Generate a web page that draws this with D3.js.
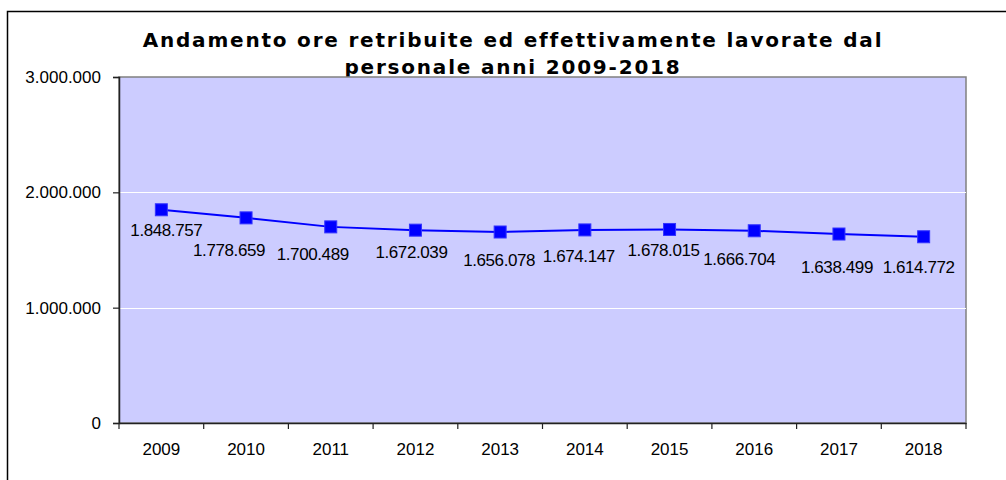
<!DOCTYPE html>
<html>
<head>
<meta charset="utf-8">
<script src="https://cdn.jsdelivr.net/npm/d3@7"></script>
<style>
  body { margin: 0; background: #fff; }
  svg { display: block; }
  .tick text { font-family: "Liberation Sans", Arial, sans-serif; font-size: 17px; fill: #000; }
</style>
</head>
<body>
<figure id="chart" style="margin:0"></figure>
<script>
// data
const years = ["2009", "2010", "2011", "2012", "2013", "2014", "2015", "2016", "2017", "2018"];
const hours = [1848757, 1778659, 1700489, 1672039, 1656078, 1674147, 1678015, 1666704, 1638499, 1614772];
const yTicks = [0, 1000000, 2000000, 3000000];
const titleLines = ["Andamento ore retribuite ed effettivamente lavorate dal", "personale anni 2009-2018"];

// label nudges (px) relative to each point, as placed in the original
const labelDx = [5, -17, -18, -4, -1, -6, -6, -15, -2, -5];
const labelDy = [26, 38, 33, 28, 34, 32, 27, 34, 39, 36];

const width = 1006, height = 480;
const plot = { left: 119, top: 77, right: 966, bottom: 423 };

const fmt = d3.formatLocale({ decimal: ",", thousands: ".", grouping: [3], currency: ["€", ""] }).format(",d");

const svg = d3.select("#chart").append("svg")
  .attr("width", width)
  .attr("height", height);

// outer frame
svg.append("rect")
  .attr("x", 7.5).attr("y", 11.5)
  .attr("width", 1010).attr("height", 480)
  .attr("fill", "#fff").attr("stroke", "#000").attr("stroke-width", 1.5);

// title (plot area is drawn over it afterwards, as in the original)
svg.append("g").selectAll("text")
  .data(titleLines)
  .enter().append("text")
  .attr("x", 513)
  .attr("y", (d, i) => 47 + i * 27)
  .attr("text-anchor", "middle")
  .style("font-family", "'DejaVu Sans', Verdana, sans-serif")
  .style("font-weight", "bold")
  .style("font-size", "20px")
  .style("letter-spacing", "1.8px")
  .text(d => d);

const x = d3.scaleBand().domain(years).range([plot.left, plot.right]).padding(0);
const y = d3.scaleLinear().domain([0, 3000000]).range([plot.bottom, plot.top]);

// plot background
svg.append("rect")
  .attr("x", plot.left).attr("y", plot.top)
  .attr("width", plot.right - plot.left).attr("height", plot.bottom - plot.top)
  .attr("fill", "#ccccff")
  .attr("stroke", "#808080").attr("stroke-width", 1.5);

// gridlines
svg.append("g").selectAll("line")
  .data(yTicks.filter(d => d > 0 && d < 3000000))
  .enter().append("line")
  .attr("x1", plot.left).attr("x2", plot.right)
  .attr("y1", d => Math.round(y(d)) + 0.5).attr("y2", d => Math.round(y(d)) + 0.5)
  .attr("stroke", "#fff").attr("stroke-width", 1);

// y axis
const yAxis = svg.append("g")
  .attr("transform", "translate(" + plot.left + ",0)")
  .call(d3.axisLeft(y).tickValues(yTicks).tickFormat(fmt).tickSize(6).tickPadding(12));
yAxis.select(".domain").attr("stroke", "#222").attr("stroke-width", 1.5);
yAxis.selectAll(".tick line").attr("stroke", "#222").attr("stroke-width", 1.2);

// x axis: category labels, ticks on the band edges
const xAxis = svg.append("g")
  .attr("transform", "translate(0," + plot.bottom + ")")
  .call(d3.axisBottom(x).tickSize(0).tickPadding(20));
xAxis.select(".domain").attr("stroke", "#222").attr("stroke-width", 1.5);
xAxis.selectAll(".tick text").attr("dy", "0.71em").attr("y", 20);
const edges = years.map(d => x(d)).concat([plot.right]);
xAxis.selectAll(".edge")
  .data(edges)
  .enter().append("line")
  .attr("class", "edge")
  .attr("x1", d => d).attr("x2", d => d)
  .attr("y1", 0).attr("y2", 6)
  .attr("stroke", "#222").attr("stroke-width", 1.2);

const cx = (d, i) => x(years[i]) + x.bandwidth() / 2;

// line
svg.append("path")
  .datum(hours)
  .attr("d", d3.line().x(cx).y(d => y(d)))
  .attr("fill", "none")
  .attr("stroke", "#0000ff")
  .attr("stroke-width", 2);

// square markers
const ms = 12;
svg.append("g").selectAll("rect")
  .data(hours)
  .enter().append("rect")
  .attr("x", (d, i) => cx(d, i) - ms / 2)
  .attr("y", d => y(d) - ms / 2)
  .attr("width", ms).attr("height", ms)
  .attr("fill", "#0000ff")
  .attr("stroke", "#3333ff").attr("stroke-width", 1);

// data labels
svg.append("g").selectAll("text")
  .data(hours)
  .enter().append("text")
  .attr("x", (d, i) => cx(d, i) + labelDx[i])
  .attr("y", (d, i) => y(d) + labelDy[i])
  .attr("text-anchor", "middle")
  .style("font-family", "'Liberation Sans', Arial, sans-serif")
  .style("font-size", "17px")
  .style("letter-spacing", "-0.4px")
  .text(d => fmt(d));
</script>
</body>
</html>
